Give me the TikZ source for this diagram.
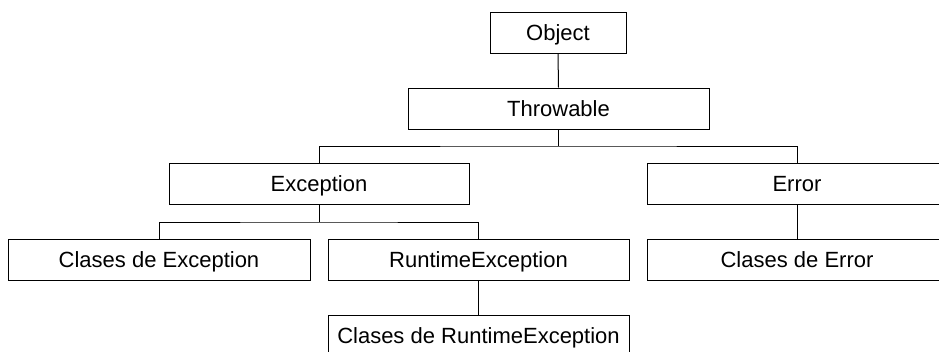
\documentclass[tikz,border=0pt]{standalone}
\usepackage{fontspec}
\setmainfont{Liberation Sans}
\begin{document}
\begin{tikzpicture}[x=1pt,y=-1pt,
  cls/.style={draw=black, line width=1pt, fill=white, inner sep=0pt, minimum height=41pt,
    text height=17pt, text depth=2pt,
    font=\fontsize{22}{26}\selectfont, text=black},
  link/.style={draw=black, line width=1pt}]
\fill[white] (0,0) rectangle (939,351);
\useasboundingbox (0,0) rectangle (939,351);
\node[cls, minimum width=136pt] (obj) at (558,32.5) {Object};
\node[cls, minimum width=301pt] (thr) at (558.5,108.5) {Throwable};
\node[cls, minimum width=300pt] (exc) at (319,184) {Exception};
\node[cls, minimum width=300pt] (err) at (797,184) {Error};
\node[cls, minimum width=302pt] (cexc) at (159,260) {Clases de Exception};
\node[cls, minimum width=301pt] (rte) at (478.5,260) {RuntimeException};
\node[cls, minimum width=300pt] (cerr) at (797,260) {Clases de Error};
\node[cls, minimum width=301pt] (crte) at (478.5,335.5) {Clases de RuntimeException};
\coordinate (b1) at (558.5,146);
\coordinate (b2) at (319,222);
\draw[link] (obj.south) -- (thr.north);
\draw[link] (thr.south) -- (b1);
\draw[link] (exc.north) |- (b1) -| (err.north);
\draw[link] (exc.south) -- (b2);
\draw[link] (cexc.north) |- (b2) -| (rte.north);
\draw[link] (rte.south) -- (crte.north);
\draw[link] (err.south) -- (cerr.north);
\end{tikzpicture}
\end{document}
